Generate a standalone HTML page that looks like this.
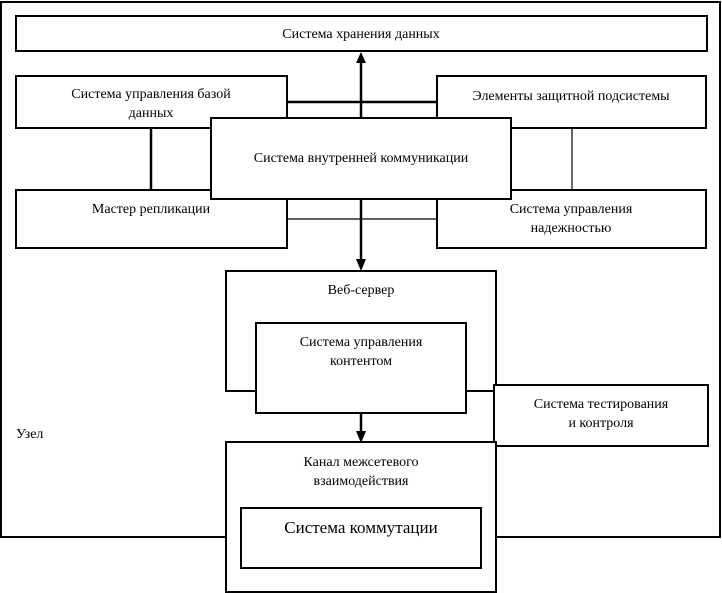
<!DOCTYPE html>
<html><head><meta charset="utf-8"><style>
html,body{margin:0;padding:0;background:#fff;}
svg{display:block;}
text{font-family:"Liberation Serif","DejaVu Serif",serif;font-size:14px;fill:#000;}
</style></head><body>
<svg width="722" height="593" viewBox="0 0 722 593" xmlns="http://www.w3.org/2000/svg">
<g fill="none" stroke="#000" stroke-width="2">
<polyline points="226,537 1,537 1,2 720,2 720,537 496,537"/>
<rect x="16" y="16" width="691" height="35"/>
<rect x="16" y="76" width="271" height="52"/>
<rect x="437" y="76" width="269" height="52"/>
<rect x="16" y="190" width="271" height="58"/>
<rect x="437" y="190" width="269" height="58"/>
<line x1="287" y1="102" x2="437" y2="102" stroke-width="2.5"/>
<line x1="151" y1="128" x2="151" y2="190" stroke-width="2.5"/>
<line x1="572" y1="128" x2="572" y2="190" stroke-width="1.2"/>
<line x1="287" y1="219" x2="437" y2="219" stroke-width="1.2"/>
<line x1="361" y1="118" x2="361" y2="62" stroke-width="2.5"/>
<line x1="361" y1="199" x2="361" y2="260" stroke-width="2.5"/>
<rect x="211" y="118" width="300" height="81" fill="#fff"/>
<polyline points="256,391 226,391 226,271 496,271 496,385"/>
<line x1="466" y1="391" x2="494" y2="391"/>
<rect x="256" y="323" width="210" height="90" fill="#fff"/>
<rect x="494" y="385" width="214" height="61" fill="#fff"/>
<line x1="361" y1="413" x2="361" y2="432" stroke-width="2.5"/>
<rect x="226" y="442" width="270" height="150" fill="#fff"/>
<rect x="241" y="508" width="240" height="60"/>
</g>
<g fill="#000">
<polygon points="356,63 366,63 361,52"/>
<polygon points="356,259 366,259 361,271"/>
<polygon points="356,431 366,431 361,443"/>
</g>
<g text-anchor="middle">
<text x="361" y="38">Система хранения данных</text>
<text x="151" y="98">Система управления базой</text>
<text x="151" y="117">данных</text>
<text x="571" y="100">Элементы защитной подсистемы</text>
<text x="361" y="162">Система внутренней коммуникации</text>
<text x="151" y="213">Мастер репликации</text>
<text x="571" y="213">Система управления</text>
<text x="571" y="232">надежностью</text>
<text x="361" y="294">Веб-сервер</text>
<text x="361" y="346">Система управления</text>
<text x="361" y="365">контентом</text>
<text x="601" y="408">Система тестирования</text>
<text x="601" y="427">и контроля</text>
<text x="361" y="466">Канал межсетевого</text>
<text x="361" y="485">взаимодействия</text>
<text x="361" y="533" style="font-size:17px">Система коммутации</text>
</g>
<text x="16" y="438">Узел</text>
</svg>
</body></html>
